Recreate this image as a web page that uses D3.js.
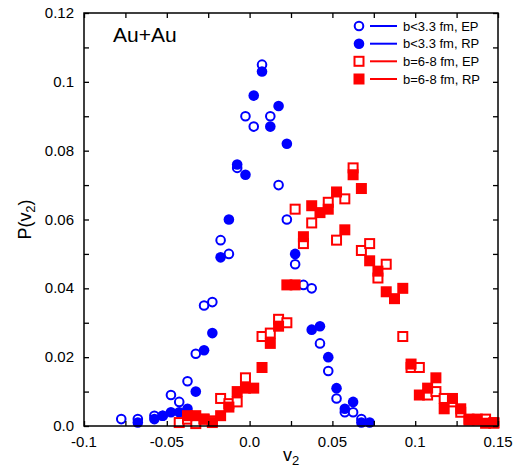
<!DOCTYPE html>
<html>
<head>
<meta charset="utf-8">
<script src="https://cdn.jsdelivr.net/npm/d3@7"></script>
<style>
  body { margin: 0; background: #fff; }
  text { font-family: "Liberation Sans", Arial, sans-serif; fill: #000; }
</style>
</head>
<body>
<div id="chart"></div>
<script>
// v2 bins (bin centres) and P(v2) for each series
var blueEP_v = [-0.0775, -0.0675, -0.0575, -0.0525, -0.0475, -0.0425, -0.0375, -0.0325, -0.0275, -0.0225,
                -0.0175, -0.0125, -0.0075, -0.0025, 0.0025, 0.0075, 0.0125, 0.0175, 0.0225, 0.0275,
                0.0325, 0.0375, 0.0425, 0.0475, 0.0525, 0.0575, 0.0625, 0.0675];
var blueEP_p = [0.002, 0.002, 0.003, 0.003, 0.009, 0.007, 0.013, 0.021, 0.035, 0.036,
                0.054, 0.050, 0.075, 0.090, 0.087, 0.105, 0.090, 0.070, 0.060, 0.047,
                0.041, 0.040, 0.024, 0.016, 0.008, 0.004, 0.004, 0.002];

var blueRP_v = [-0.0675, -0.0575, -0.0525, -0.0475, -0.0425, -0.0375, -0.0325, -0.0275, -0.0225, -0.0175,
                -0.0125, -0.0075, -0.0025, 0.0025, 0.0075, 0.0125, 0.0175, 0.0225, 0.0275,
                0.0375, 0.0425, 0.0475, 0.0525, 0.0575, 0.0625, 0.0675, 0.0725];
var blueRP_p = [0.001, 0.002, 0.003, 0.004, 0.004, 0.005, 0.010, 0.022, 0.027, 0.049,
                0.060, 0.076, 0.073, 0.096, 0.103, 0.087, 0.093, 0.082, 0.050,
                0.028, 0.029, 0.020, 0.011, 0.005, 0.007, 0.001, 0.001];

var redEP_v = [-0.0425, -0.0375, -0.0325, -0.0275, -0.0225, -0.0175, -0.0125, -0.0075, -0.0025,
               0.0075, 0.0125, 0.0175, 0.0225, 0.0275, 0.0325, 0.0375, 0.0475, 0.0525, 0.0575,
               0.0625, 0.0675, 0.0725, 0.0775, 0.0825, 0.0925, 0.0975, 0.1025, 0.1075, 0.1125,
               0.1175, 0.1225, 0.1275, 0.1325, 0.1375, 0.1425, 0.1475];
var redEP_p = [0.001, 0.002, 0.0007, 0.002, 0.0015, 0.008, 0.0065, 0.007, 0.014,
               0.026, 0.027, 0.031, 0.030, 0.063, 0.053, 0.059, 0.065, 0.054, 0.066,
               0.075, 0.051, 0.053, 0.043, 0.047, 0.026, 0.017, 0.017, 0.009, 0.010,
               0.008, 0.007, 0.004, 0.002, 0.002, 0.002, 0.001];

var redRP_v = [-0.0375, -0.0325, -0.0275, -0.0225, -0.0175, -0.0125, -0.0075, -0.0025, 0.0025,
               0.0075, 0.0125, 0.0175, 0.0225, 0.0275, 0.0325, 0.0375, 0.0425, 0.0475, 0.0525,
               0.0575, 0.0625, 0.0675, 0.0725, 0.0775, 0.0825, 0.0875, 0.0925, 0.0975, 0.1025,
               0.1075, 0.1125, 0.1175, 0.1225, 0.1275, 0.1325, 0.1375, 0.1425, 0.1475];
var redRP_p = [0.003, 0.003, 0.002, 0.001, 0.003, 0.0055, 0.010, 0.011, 0.011,
               0.017, 0.024, 0.029, 0.041, 0.041, 0.055, 0.064, 0.062, 0.063, 0.068,
               0.057, 0.073, 0.069, 0.048, 0.045, 0.039, 0.037, 0.040, 0.018, 0.009,
               0.011, 0.014, 0.005, 0.008, 0.005, 0.0017, 0.0017, 0.0008, 0.0008];

var xTicks = [-0.1, -0.05, 0.0, 0.05, 0.1, 0.15];
var xTickLabels = ["-0.1", "-0.05", "0.0", "0.05", "0.1", "0.15"];
var yTicks = [0, 0.02, 0.04, 0.06, 0.08, 0.1, 0.12];
var yTickLabels = ["0.0", "0.02", "0.04", "0.06", "0.08", "0.1", "0.12"];

var legendLabels = ["b<3.3 fm, EP", "b<3.3 fm, RP", "b=6-8 fm, EP", "b=6-8 fm, RP"];

var width = 520, height = 473;
var margin = {top: 13, right: 22, bottom: 47, left: 84};
var blue = "#0000ff", red = "#ff0000";

var svg = d3.select("#chart").append("svg")
    .attr("width", width)
    .attr("height", height);

var x = d3.scaleLinear().domain([-0.1, 0.15]).range([margin.left, width - margin.right]);
var y = d3.scaleLinear().domain([0, 0.12]).range([height - margin.bottom, margin.top]);

// minor ticks every 0.025 / 0.01
var xMinor = d3.range(0, 11).map(function(i) { return -0.1 + i * 0.025; });
var yMinor = d3.range(0, 13).map(function(i) { return i * 0.01; });

function pairs(vs, ps) {
  return vs.map(function(v, i) { return {v: v, p: ps[i]}; });
}

// markers
var r = 4.3, s = 9;
var gData = svg.append("g");

gData.selectAll(".bep").data(pairs(blueEP_v, blueEP_p)).enter().append("circle")
    .attr("cx", function(d) { return x(d.v); })
    .attr("cy", function(d) { return y(d.p); })
    .attr("r", r)
    .attr("fill", "#fff").attr("stroke", blue).attr("stroke-width", 2);

gData.selectAll(".brp").data(pairs(blueRP_v, blueRP_p)).enter().append("circle")
    .attr("cx", function(d) { return x(d.v); })
    .attr("cy", function(d) { return y(d.p); })
    .attr("r", r + 1)
    .attr("fill", blue);

gData.selectAll(".rep").data(pairs(redEP_v, redEP_p)).enter().append("rect")
    .attr("x", function(d) { return x(d.v) - s / 2; })
    .attr("y", function(d) { return y(d.p) - s / 2; })
    .attr("width", s).attr("height", s)
    .attr("fill", "#fff").attr("stroke", red).attr("stroke-width", 2);

gData.selectAll(".rrp").data(pairs(redRP_v, redRP_p)).enter().append("rect")
    .attr("x", function(d) { return x(d.v) - (s + 2) / 2; })
    .attr("y", function(d) { return y(d.p) - (s + 2) / 2; })
    .attr("width", s + 2).attr("height", s + 2)
    .attr("fill", red);

// axes on all four sides, ticks pointing inward
var x0 = margin.left, x1 = width - margin.right;
var y0 = height - margin.bottom, y1 = margin.top;
var tl = 5;

svg.append("g").attr("transform", "translate(0," + y0 + ")")
    .call(d3.axisBottom(x).tickValues(xMinor).tickSize(-tl).tickFormat(""))
    .call(function(g) { g.select(".domain").remove(); });
svg.append("g").attr("transform", "translate(0," + y1 + ")")
    .call(d3.axisTop(x).tickValues(xMinor).tickSize(-tl).tickFormat(""))
    .call(function(g) { g.select(".domain").remove(); });
svg.append("g").attr("transform", "translate(" + x0 + ",0)")
    .call(d3.axisLeft(y).tickValues(yMinor).tickSize(-tl).tickFormat(""))
    .call(function(g) { g.select(".domain").remove(); });
svg.append("g").attr("transform", "translate(" + x1 + ",0)")
    .call(d3.axisRight(y).tickValues(yMinor).tickSize(-tl).tickFormat(""))
    .call(function(g) { g.select(".domain").remove(); });

svg.selectAll(".tick line").attr("stroke", "#000").attr("stroke-width", 1.3);

svg.append("rect")
    .attr("x", x0).attr("y", y1)
    .attr("width", x1 - x0).attr("height", y0 - y1)
    .attr("fill", "none").attr("stroke", "#000").attr("stroke-width", 1.5);

// tick labels
svg.append("g").selectAll("text").data(xTicks).enter().append("text")
    .attr("x", function(d) { return x(d); })
    .attr("y", y0 + 21)
    .attr("text-anchor", "middle")
    .style("font-size", "15px")
    .text(function(d, i) { return xTickLabels[i]; });

svg.append("g").selectAll("text").data(yTicks).enter().append("text")
    .attr("x", x0 - 10)
    .attr("y", function(d) { return y(d) + 5; })
    .attr("text-anchor", "end")
    .style("font-size", "15px")
    .text(function(d, i) { return yTickLabels[i]; });

// axis titles
var xt = svg.append("text")
    .attr("x", (x0 + x1) / 2)
    .attr("y", height - 12)
    .attr("text-anchor", "middle")
    .style("font-size", "18px");
xt.append("tspan").text("v");
xt.append("tspan").attr("dy", 4).style("font-size", "13px").text("2");

var yt = svg.append("text")
    .attr("transform", "translate(31," + ((y0 + y1) / 2) + ")rotate(-90)")
    .attr("text-anchor", "middle")
    .style("font-size", "18px");
yt.append("tspan").text("P(v");
yt.append("tspan").attr("dy", 4).style("font-size", "13px").text("2");
yt.append("tspan").attr("dy", -4).text(")");

// system label
svg.append("text")
    .attr("x", 113)
    .attr("y", 42)
    .style("font-size", "21px")
    .text("Au+Au");

// legend
var legend = svg.append("g");
var legendColors = [blue, blue, red, red];
var legendY = [26, 43.7, 61.3, 79];
legendLabels.forEach(function(lab, i) {
  var ly = legendY[i];
  var mx = 359;
  if (i === 0) {
    legend.append("circle").attr("cx", mx).attr("cy", ly).attr("r", r)
        .attr("fill", "#fff").attr("stroke", blue).attr("stroke-width", 2);
  } else if (i === 1) {
    legend.append("circle").attr("cx", mx).attr("cy", ly).attr("r", r + 1).attr("fill", blue);
  } else if (i === 2) {
    legend.append("rect").attr("x", mx - s / 2).attr("y", ly - s / 2).attr("width", s).attr("height", s)
        .attr("fill", "#fff").attr("stroke", red).attr("stroke-width", 2);
  } else {
    legend.append("rect").attr("x", mx - (s + 2) / 2).attr("y", ly - (s + 2) / 2)
        .attr("width", s + 2).attr("height", s + 2).attr("fill", red);
  }
  legend.append("line")
      .attr("x1", 370).attr("x2", 397).attr("y1", ly).attr("y2", ly)
      .attr("stroke", legendColors[i]).attr("stroke-width", 2);
  legend.append("text")
      .attr("x", 403).attr("y", ly + 4.5)
      .style("font-size", "13px")
      .text(lab);
});
</script>
</body>
</html>
